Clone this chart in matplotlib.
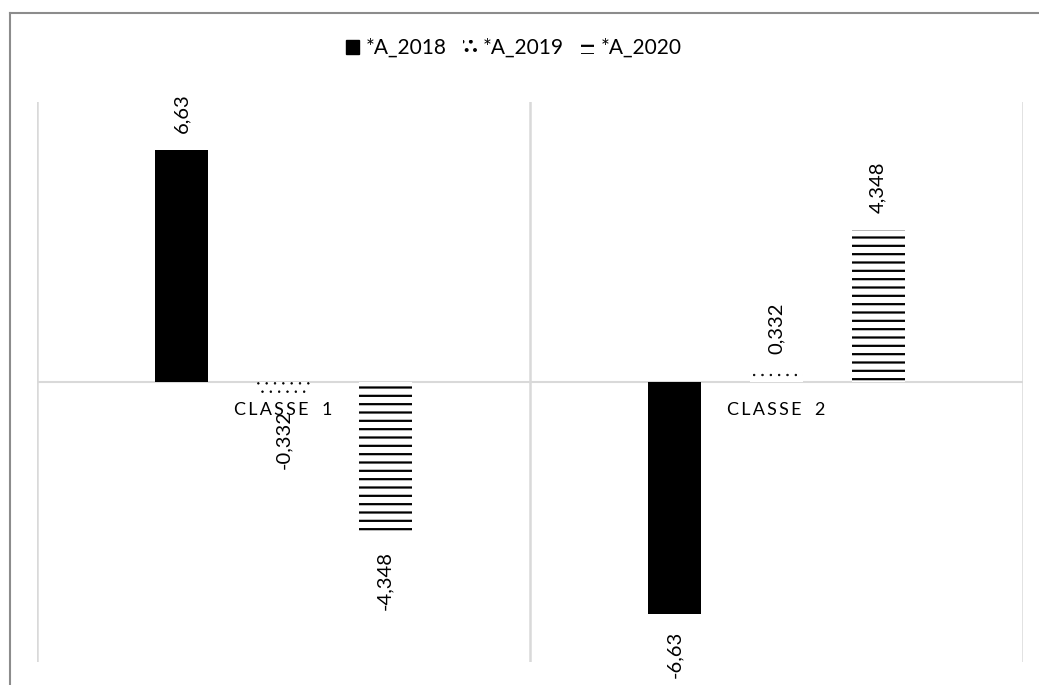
import matplotlib
matplotlib.use('Agg')
import matplotlib.pyplot as plt
from matplotlib.lines import Line2D
from matplotlib.patches import Patch
import numpy as np

plt.rcParams['font.family'] = ['Lato', 'DejaVu Sans']
plt.rcParams['hatch.linewidth'] = 1.6

categories = ['CLASSE 1', 'CLASSE 2']
series_names = ['*A_2018', '*A_2019', '*A_2020']
a_2018 = [6.63, -6.63]
a_2019 = [-0.332, 0.332]
a_2020 = [-4.348, 4.348]

W, H = 1039, 685
fig = plt.figure(figsize=(W / 100, H / 100), dpi=100)
ax = fig.add_axes([37 / W, 1 - 662 / H, (1023 - 37) / W, (662 - 102) / H])

x = np.arange(len(categories))
width = 0.1075
step = 0.206
styles = [
    dict(color='black'),
    dict(facecolor='white', edgecolor='black', hatch='..', linewidth=0),
    dict(facecolor='white', edgecolor='black', hatch='--', linewidth=0),
]
hatch_lw = [1.0, 0.5, 1.6]

grid_c = '#d9d9d9'
ax.axhline(0, color=grid_c, lw=1.5, zorder=1)
for b in [-0.5, 0.5, 1.5]:
    ax.axvline(b, color=grid_c, lw=1.8, zorder=1)

for i, vals in enumerate([a_2018, a_2019, a_2020]):
    pos = x + (i - 1) * step
    with plt.rc_context({'hatch.linewidth': hatch_lw[i]}):
        bars = ax.bar(pos, vals, width, zorder=2, **styles[i])
    for p in bars:
        if hasattr(p, 'set_hatch_linewidth'):
            p.set_hatch_linewidth(hatch_lw[i])
    for px, v in zip(pos, vals):
        txt = f'{v:g}'.replace('.', ',')
        ax.annotate(txt, (px, v), xytext=(0, 12 if v > 0 else -12),
                    textcoords='offset points', rotation=90, ha='center',
                    va='bottom' if v > 0 else 'top', fontsize=14.5, zorder=3)

# category names sit just under the zero line, letter-spaced
for xi, name in zip(x, categories):
    spaced = '\u2009'.join(name.replace(' ', '\u2002'))
    ax.annotate(spaced, (xi, 0), xytext=(0, -20), textcoords='offset points',
                ha='center', va='center', fontsize=13, zorder=4)

ax.set_xlim(-0.5, 1.5)
ax.set_ylim(-8, 8)
ax.axis('off')

handles = [Patch(**styles[0]), Patch(**styles[1]), Patch(**styles[2])]
for h, lw in zip(handles, hatch_lw):
    if hasattr(h, 'set_hatch_linewidth'):
        h.set_hatch_linewidth(lw)
fig.legend(handles, series_names, loc='center', ncol=3, frameon=False,
           bbox_to_anchor=(513.5 / W, 1 - 48 / H), fontsize=15,
           handlelength=0.65, handleheight=0.65, handletextpad=0.3,
           columnspacing=0.8)

# outer chart frame (top and left edges)
fig.add_artist(Line2D([9.5 / W, 1], [1 - 12.5 / H, 1 - 12.5 / H],
                      transform=fig.transFigure, color='#8c8c8c', lw=1.5))
fig.add_artist(Line2D([9.5 / W, 9.5 / W], [0, 1 - 12.5 / H],
                      transform=fig.transFigure, color='#8c8c8c', lw=1.5))

fig.savefig('out.png', dpi=100)
